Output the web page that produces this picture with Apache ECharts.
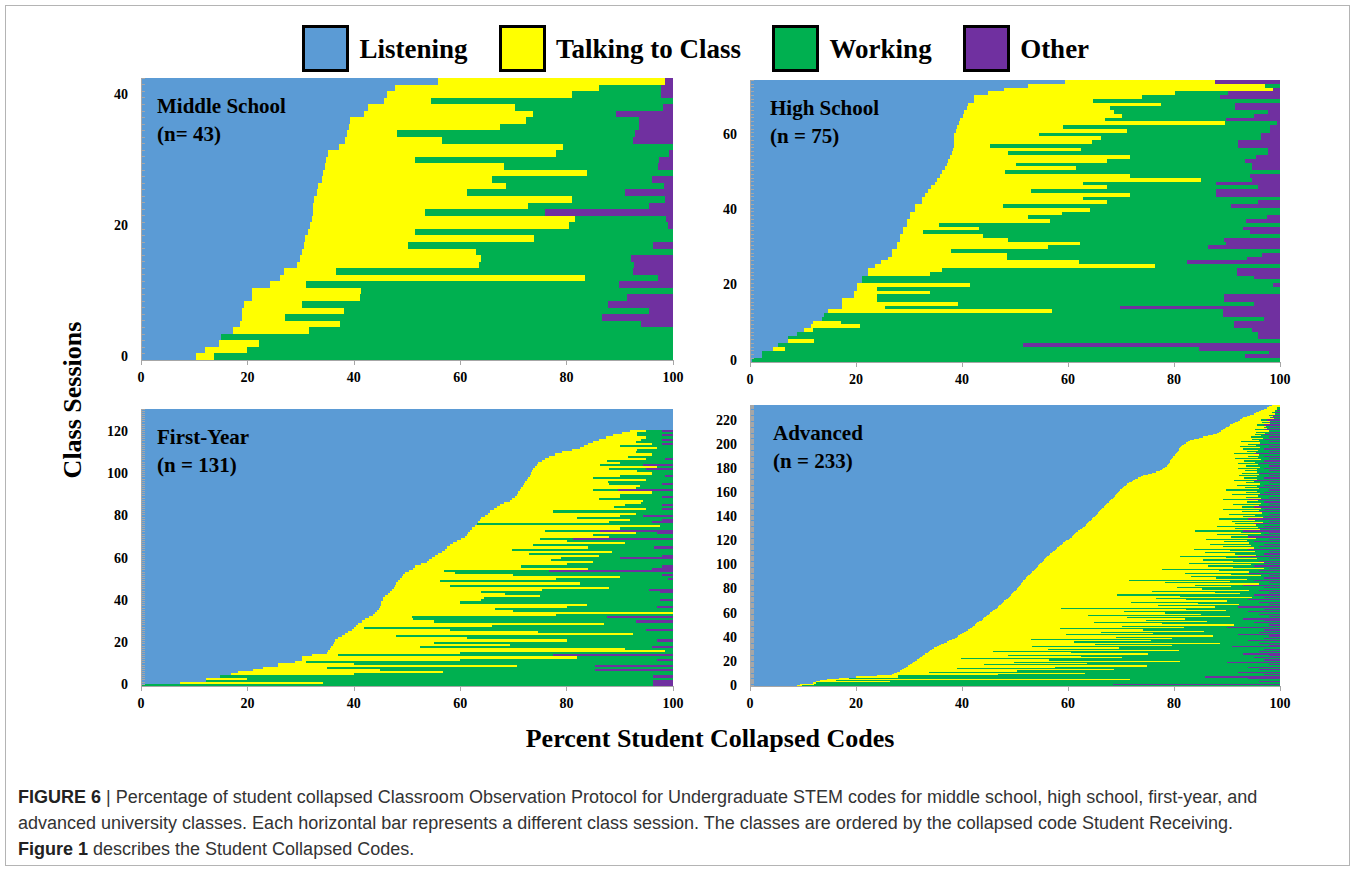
<!DOCTYPE html>
<html>
<head>
<meta charset="utf-8">
<title>Percent Student Collapsed Codes</title>
<script src="https://cdn.jsdelivr.net/npm/echarts@6/dist/echarts.min.js"></script>
<style>
html,body{margin:0;padding:0;background:#fff;}
/* sessions sit edge to edge: keep bar edges crisp so no pale seams show */
#main svg path{shape-rendering:crispEdges;}
</style>
</head>
<body>
<div id="main" style="width:1355px;height:870px;"></div>
<script type="text/javascript">
var codeNames = ['Listening', 'Talking to Class', 'Working', 'Other'];
var codeColors = ['#5b9bd5', '#ffff00', '#00b050', '#7030a0'];
var xTicks = [0, 20, 40, 60, 80, 100];

// Middle School (n = 43), one value per class session, bottom to top
var msListening = [10.3,12.1,14.7,15.0,17.2,18.7,19.0,19.0,19.3,20.8,
  20.8,24.2,26.1,26.9,29.3,29.9,30.2,30.6,30.9,31.4,
  31.8,32.1,32.3,32.3,32.6,33.1,33.2,34.0,34.3,34.6,
  34.7,35.1,37.3,38.4,38.7,39.1,39.3,42.0,42.6,45.6,
  46.2,47.7,55.9];
var msTalking = [3.5,7.8,7.5,0,14.3,18.8,8.1,19.2,10.9,20.4,
  20.6,6.9,57.4,9.7,34.2,34.1,32.7,19.5,43.0,20.1,
  48.7,49.4,21.0,40.4,48.5,28.1,35.5,31.9,49.5,33.7,
  16.8,42.9,42.0,18.1,9.5,28.4,33.0,31.6,27.7,8.9,
  34.8,38.3,42.6];
var msWorking = [86.2,80.1,77.8,85.0,68.5,56.4,59.5,57.2,57.6,50.2,
  58.6,58.8,13.6,55.9,29.2,28.1,37.1,46.2,26.1,48.5,
  18.5,17.1,22.6,22.7,17.4,29.8,29.6,30.2,16.2,28.8,
  45.9,21.3,20.7,36.0,44.7,26.2,21.4,15.7,27.8,45.5,
  16.7,11.7,0];
var msOther = [0,0,0,0,0,6.1,13.4,4.6,12.2,8.6,
  0,10.1,2.9,7.5,7.3,7.9,0,3.7,0,0,
  1.0,1.4,24.1,4.6,1.5,9.0,1.7,3.9,0,2.9,
  2.6,0.7,0,7.5,7.1,6.3,6.3,10.7,1.9,0,
  2.3,2.3,1.5];

// High School (n = 75)
var hsListening = [0.3,2.2,2.2,4.4,5.2,7.2,7.2,8.8,10.1,11.6,
  11.9,13.5,14.0,14.7,17.3,17.3,17.3,19.6,19.6,20.1,
  20.1,21.1,21.1,22.3,22.3,23.5,24.8,26.0,26.7,26.7,
  27.7,27.7,28.3,28.3,28.9,28.9,29.6,29.6,30.2,30.2,
  31.1,31.1,32.4,32.4,33.0,33.6,34.2,34.9,35.3,35.8,
  36.3,36.8,37.1,37.4,37.8,38.1,38.3,38.4,38.4,38.4,
  38.4,38.8,39.1,39.4,39.7,40.1,40.3,40.9,41.2,42.3,
  42.3,44.9,47.9,52.5,59.4];
var hsTalking = [0,0,0,2.2,0,4.9,0,0,1.7,9.2,
  5.3,0,0,42.2,8.2,22.0,6.6,4.3,14.4,3.8,
  21.5,0,0,11.7,13.9,52.9,37.3,22.4,21.7,11.3,
  28.5,34.6,20.4,15.7,3.7,14.3,6.1,27.0,22.3,28.7,
  33.1,16.7,35.0,30.4,38.7,19.4,33.2,27.9,49.7,35.9,
  11.8,24.7,13.1,30.0,33.9,10.6,24.1,6.9,26.1,27.9,
  16.1,32.3,20.0,50.2,27.3,30.0,28.4,27.0,36.3,22.4,
  31.6,35.3,50.8,44.7,28.3];
var hsWorking = [99.7,91.2,95.8,78.2,46.4,87.9,88.7,87.1,82.9,70.5,
  74.1,83.4,75.3,32.4,44.3,55.7,65.6,65.6,66.0,76.1,
  57.0,78.9,73.9,57.8,55.6,23.6,20.3,45.3,48.2,62.0,
  30.3,27.6,40.8,56.0,61.7,49.8,64.3,36.9,45.0,41.1,
  35.8,43.0,28.5,37.2,16.2,34.9,28.5,25.1,9.7,22.6,
  51.9,33.2,44.5,26.0,23.8,49.0,35.3,46.8,27.6,30.1,
  41.9,27.0,39.0,9.8,22.9,24.9,29.0,23.6,14.0,35.3,
  14.8,10.0,0,2.8,0];
var hsOther = [0,6.6,2.0,15.2,48.4,0,4.1,4.1,5.3,8.7,
  8.7,3.1,10.7,10.7,30.2,5.0,10.5,10.5,0,0,
  1.4,0,5.0,8.2,8.2,0,17.6,6.3,3.4,0,
  13.5,10.1,10.5,0,5.7,7.0,0,6.5,2.5,0,
  0,9.2,4.1,0,12.1,12.1,4.1,12.1,5.3,5.7,
  0,5.3,5.3,6.6,4.5,2.3,2.3,7.9,7.9,3.6,
  3.6,1.9,1.9,0.6,10.1,5.0,2.3,8.5,8.5,0,
  11.3,9.8,1.3,0,12.3];

// First-Year (n = 131)
var fyListening = [0,7.3,12.3,12.3,14.8,17.0,18.3,21.1,23.0,25.8,
  25.8,28.9,30.2,30.2,32.1,34.9,35.1,35.5,35.8,36.0,
  36.3,36.5,37.1,37.7,38.3,39.0,39.6,40.0,40.4,40.8,
  41.5,42.1,42.9,43.7,44.0,44.4,44.7,44.9,45.1,45.2,
  45.4,45.5,45.9,46.4,46.8,47.2,47.5,47.7,48.0,48.4,
  48.7,49.0,49.3,49.6,50.4,51.1,51.5,52.6,53.7,54.2,
  54.7,55.3,55.9,56.5,57.1,57.6,58.1,58.7,59.4,60.1,
  60.9,61.2,61.5,61.8,62.2,62.7,63.1,63.4,63.7,64.0,
  64.6,65.2,65.6,66.3,66.9,67.5,68.3,69.4,69.8,70.3,
  70.6,70.9,71.2,71.5,71.8,72.0,72.2,72.5,72.8,73.1,
  73.3,73.5,73.7,74.0,74.4,74.7,75.3,76.0,76.6,77.8,
  79.1,81.0,82.5,83.3,84.1,85.0,86.0,87.4,88.8,90.4,
  91.9,100,100,100,100,100,100,100,100,100,
  100];
var fyTalking = [0,27.0,0,7.7,0,23.0,38.5,23.8,12.0,44.8,
  14.2,2.1,29.8,51.8,4.9,25.1,63.4,55.5,16.6,33.4,
  18.7,43.5,24.1,10.3,54.2,35.7,18.4,2.0,25.6,46.2,
  13.5,9.1,8.0,34.3,56.0,25.6,21.8,35.1,38.7,14.8,
  18.6,19.0,29.1,22.0,17.2,28.1,40.5,10.3,34.5,7.8,
  29.3,41.0,20.7,9.4,6.6,32.9,20.0,27.4,31.3,22.8,
  24.3,30.7,17.1,32.0,12.6,26.4,15.6,32.3,20.6,14.9,
  27.1,23.8,31.5,14.1,27.8,34.9,0,24.6,28.3,17.9,
  25.4,27.8,11.9,28.7,22.1,23.5,25.7,25.0,16.2,19.7,
  19.4,25.1,13.8,21.5,22.0,16.0,15.6,22.5,12.2,16.9,
  22.7,19.7,14.3,23.0,11.9,15.3,12.2,19.0,15.0,18.2,
  13.9,12.2,14.5,6.7,11.9,8.0,8.0,7.6,4.4,2.8,
  3.1,0,0,0,0,0,0,0,0,0,
  0];
var fyWorking = [96.3,62.0,84.0,80.0,81.5,60.0,43.2,40.4,65.0,14.7,
  60.0,69.0,37.0,18.0,40.5,40.0,1.5,9.0,43.6,30.6,
  45.0,17.0,38.8,52.0,7.5,25.3,37.0,58.0,34.0,13.0,
  38.0,48.8,36.7,22.0,0,30.0,33.5,17.0,16.2,40.0,
  33.5,35.5,25.0,31.6,33.6,20.2,12.0,42.0,17.5,43.8,
  21.0,10.0,28.0,41.0,19.6,12.0,26.4,20.0,15.0,23.0,
  11.0,12.0,27.0,11.5,30.3,12.5,26.3,9.0,20.0,6.2,
  12.0,15.0,4.0,10.4,10.0,2.4,36.9,8.0,5.9,18.1,
  4.3,7.0,22.5,3.0,11.0,6.9,6.0,5.6,14.0,8.0,
  10.0,4.0,4.7,7.0,6.2,10.0,12.2,5.0,15.0,8.5,
  4.0,6.8,7.0,3.0,8.0,10.0,12.5,3.5,8.4,4.0,
  7.0,6.8,3.0,10.0,1.9,7.0,3.9,5.0,4.7,6.8,
  3.0,0,0,0,0,0,0,0,0,0,
  0];
var fyOther = [3.7,3.7,3.7,0,3.7,0,0,14.7,0,14.7,
  0,0,3.0,0,22.5,0,0,0,4.0,0,
  0,3.0,0,0,0,0,5.0,0,0,0,
  7.0,0,12.4,0,0,0,0,3.0,0,0,
  2.5,0,0,0,2.4,4.5,0,0,0,0,
  1.0,0,2.0,0,23.4,4.0,2.1,0,0,0,
  10.0,2.0,0,0,0,3.5,0,0,0,18.8,
  0,0,3.0,13.7,0,0,0,4.0,2.1,0,
  5.7,0,0,2.0,0,2.1,0,0,0,2.0,
  0,0,10.3,0,0,2.0,0,0,0,1.5,
  0,0,5.0,0,5.7,0,0,1.5,0,0,
  0,0,0,0,2.1,0,2.1,0,2.1,0,
  2.0,0,0,0,0,0,0,0,0,0,
  0];

// Advanced (n = 233)
var adListening = [8.8,9.5,11.9,12.5,13.2,14.5,16.7,20.0,23.9,26.7,
  27.2,27.8,28.3,28.7,29.1,29.5,29.9,30.2,30.5,30.8,
  31.1,31.5,31.8,32.1,32.4,32.7,33.1,33.5,33.8,34.0,
  34.3,34.7,35.2,35.6,36.1,36.6,37.1,37.6,38.1,38.6,
  39.0,39.3,39.6,40.0,40.3,40.7,41.1,41.5,41.8,42.1,
  42.4,42.7,42.9,43.3,43.7,44.0,44.2,44.5,44.8,45.0,
  45.3,45.6,45.9,46.2,46.6,46.8,47.0,47.3,47.6,47.8,
  48.0,48.3,48.6,48.8,49.1,49.3,49.5,49.7,49.9,50.1,
  50.3,50.5,50.7,50.9,51.1,51.3,51.5,51.6,51.8,52.0,
  52.2,52.4,52.8,53.0,53.2,53.5,53.7,53.9,54.2,54.4,
  54.6,54.8,55.0,55.2,55.5,55.7,55.9,56.1,56.4,56.6,
  56.9,57.2,57.5,57.8,58.0,58.3,58.5,58.8,59.1,59.4,
  59.7,60.1,60.4,60.7,60.9,61.1,61.4,61.6,61.9,62.2,
  62.6,62.9,63.2,63.4,63.6,63.8,64.0,64.3,64.5,64.7,
  65.0,65.2,65.4,65.6,65.8,66.0,66.3,66.5,66.8,67.0,
  67.2,67.4,67.7,67.9,68.2,68.4,68.6,68.8,69.0,69.3,
  69.5,69.7,69.9,70.1,70.4,70.6,70.9,71.2,71.6,72.0,
  72.3,72.7,73.2,73.7,74.2,75.0,75.8,76.6,77.4,77.7,
  78.0,78.3,78.6,78.8,79.0,79.2,79.3,79.5,79.6,79.8,
  79.9,80.1,80.3,80.5,80.7,80.9,81.0,81.2,81.4,81.5,
  81.9,82.3,82.7,83.0,83.8,84.7,85.5,86.4,87.3,88.1,
  88.5,88.9,89.3,89.6,89.9,90.3,90.6,91.1,91.6,92.1,
  92.4,92.8,93.1,93.7,94.4,95.0,95.5,96.0,96.5,97.0,
  97.5,98.0,98.5];
var adTalking = [1.0,2.5,0.5,14.0,3.0,57.2,2.0,8.0,4.0,20.0,
  36.0,6.0,22.0,40.0,10.0,28.0,45.0,14.0,33.0,19.0,
  50.0,25.0,8.0,38.0,30.0,16.0,42.0,27.0,12.0,47.0,
  22.0,35.0,18.0,44.0,29.0,52.0,24.0,38.0,15.0,41.0,
  30.0,48.0,20.0,36.0,26.0,45.0,33.0,17.0,40.0,28.0,
  49.0,35.0,22.0,43.0,31.0,38.0,27.0,46.0,19.0,40.0,
  33.0,25.0,44.0,36.0,12.0,41.0,30.0,45.0,37.0,24.0,
  42.0,34.0,28.0,46.0,32.0,20.0,43.0,38.0,26.0,44.0,
  35.0,30.0,40.0,33.0,45.0,27.0,39.0,20.0,42.0,36.0,
  31.0,44.0,38.0,29.0,41.0,35.0,24.0,43.0,37.0,32.0,
  40.0,28.0,42.0,36.0,30.0,40.0,34.0,25.0,39.0,35.0,
  29.0,38.0,33.0,26.0,37.0,31.0,36.0,28.0,35.0,30.0,
  34.0,26.0,35.0,30.0,33.0,27.0,35.0,31.0,22.0,34.0,
  29.0,33.0,25.0,32.0,28.0,33.0,27.0,31.0,24.0,32.0,
  28.0,30.0,25.0,31.0,27.0,30.0,23.0,30.0,26.0,29.0,
  24.0,29.0,26.0,28.0,21.0,28.0,25.0,27.0,22.0,27.0,
  24.0,26.0,20.0,26.0,23.0,25.0,21.0,25.0,22.0,23.0,
  19.0,23.0,20.0,22.0,18.0,21.0,17.0,19.0,16.0,18.0,
  14.0,18.0,15.0,17.0,13.0,16.0,14.0,17.0,12.0,16.0,
  14.0,16.0,11.0,15.0,13.0,15.0,12.0,15.0,11.0,14.0,
  12.0,14.0,10.0,13.0,11.0,12.0,9.0,10.0,8.0,9.0,
  7.0,9.0,6.0,8.0,7.0,7.0,5.0,7.0,5.0,6.0,
  4.0,6.0,5.0,5.0,3.5,4.0,3.0,3.0,2.5,2.5,
  2.0,2.0,1.5];
var adWorking = [90.2,56.5,87.6,69.5,83.8,28.3,75.3,57.8,72.1,50.3,
  36.8,58.2,49.7,27.3,60.9,36.5,25.1,53.8,36.5,40.2,
  18.9,40.5,60.2,24.9,37.6,49.3,17.9,39.5,50.2,19.0,
  40.7,30.3,37.8,18.4,34.9,7.4,38.9,18.4,46.9,17.4,
  31.0,10.7,32.4,24.0,29.7,14.3,22.9,41.5,8.2,29.9,
  6.6,22.3,30.1,13.7,22.3,11.0,28.8,7.5,36.2,11.0,
  21.7,23.4,10.1,14.8,41.4,4.2,23.0,5.7,15.4,24.2,
  10.0,11.7,23.4,2.2,18.9,25.7,7.5,10.3,24.1,1.9,
  14.7,16.5,9.3,9.1,3.9,19.7,9.5,23.4,6.2,9.0,
  16.8,1.6,9.2,12.0,5.8,7.5,22.3,1.1,8.8,8.6,
  5.4,14.2,3.0,4.8,14.5,2.3,10.1,10.9,4.6,5.4,
  14.1,2.8,9.5,10.2,5.0,6.7,5.5,10.2,5.9,5.6,
  6.3,11.9,4.6,3.3,6.1,8.9,3.6,5.4,9.1,3.8,
  4.4,4.1,8.8,4.6,3.4,3.2,7.0,4.7,5.5,3.3,
  4.0,4.8,7.6,3.4,3.2,4.0,7.7,3.5,2.2,4.0,
  6.8,3.6,3.3,4.1,4.8,3.6,4.4,4.2,5.0,3.7,
  3.5,4.3,8.1,3.9,2.6,4.4,5.1,3.8,4.4,5.0,
  3.7,4.3,3.8,4.3,5.8,4.0,3.2,4.4,4.6,4.3,
  5.0,3.7,4.4,4.2,4.0,4.8,3.7,3.5,6.4,4.2,
  3.1,3.9,3.7,4.5,4.3,4.1,4.0,3.8,5.6,4.5,
  2.1,3.7,5.3,4.0,2.2,3.3,3.5,3.6,1.7,2.9,
  2.5,2.1,1.7,2.4,1.1,2.7,1.4,1.9,1.4,1.9,
  1.1,1.2,0.4,1.3,0.6,1.0,0.5,1.0,0.5,0.5,
  0.5,0,0];
var adOther = [0,31.5,0,4.0,0,0,6.0,14.2,0,3.0,
  0,8.0,0,4.0,0,6.0,0,2.0,0,10.0,
  0,3.0,0,5.0,0,2.0,7.0,0,4.0,0,
  3.0,0,9.0,2.0,0,4.0,0,6.0,0,3.0,
  0,2.0,8.0,0,4.0,0,3.0,0,10.0,0,
  2.0,0,5.0,0,3.0,7.0,0,2.0,0,4.0,
  0,6.0,0,3.0,0,8.0,0,2.0,0,4.0,
  0,6.0,0,3.0,0,5.0,0,2.0,0,4.0,
  0,3.0,0,7.0,0,2.0,0,5.0,0,3.0,
  0,2.0,0,6.0,0,4.0,0,2.0,0,5.0,
  0,3.0,0,4.0,0,2.0,0,8.0,0,3.0,
  0,2.0,0,6.0,0,4.0,0,3.0,0,5.0,
  0,2.0,0,6.0,0,3.0,0,2.0,7.0,0,
  4.0,0,3.0,0,5.0,0,2.0,0,6.0,0,
  3.0,0,2.0,0,4.0,0,3.0,0,5.0,0,
  2.0,0,3.0,0,6.0,0,2.0,0,4.0,0,
  3.0,0,2.0,0,4.0,0,3.0,0,2.0,0,
  5.0,0,3.0,0,2.0,0,4.0,0,2.0,0,
  3.0,0,2.0,0,4.0,0,3.0,0,2.0,0,
  3.0,0,5.0,0,2.0,0,3.0,0,2.0,0,
  4.0,0,2.0,0,3.0,0,2.0,0,3.0,0,
  2.0,0,3.0,0,2.0,0,3.0,0,2.0,0,
  2.5,0,1.5,0,1.5,0,1.0,0,0.5,0,
  0,0,0];

var panelTitles = ['Middle School\n(n= 43)', 'High School\n(n = 75)', 'First-Year\n(n = 131)', 'Advanced\n(n = 233)'];
var panelData = [
  [msListening, msTalking, msWorking, msOther],
  [hsListening, hsTalking, hsWorking, hsOther],
  [fyListening, fyTalking, fyWorking, fyOther],
  [adListening, adTalking, adWorking, adOther]
];

var serif = "'Liberation Serif', 'Times New Roman', serif";
var sans = "'Liberation Sans', Arial, sans-serif";
var grids = [
  {left: 141, top: 78, width: 532, height: 282},
  {left: 750, top: 80, width: 530, height: 282},
  {left: 141, top: 409, width: 532, height: 277},
  {left: 750, top: 405, width: 530, height: 281}
];
var titlePos = [[157, 92], [770, 94], [157, 423], [773, 419]];

function sessionLabels(n) {
  var a = [];
  for (var i = 0; i < n; i++) a.push(String(i));
  return a;
}

var myChart = echarts.init(document.getElementById('main'), null, {renderer: 'svg'});

var xAxes = [], yAxes = [], series = [], titles = [];
for (var p = 0; p < 4; p++) {
  xAxes.push({
    type: 'value', gridIndex: p, min: xTicks[0], max: xTicks[xTicks.length - 1], interval: 20,
    axisLine: {show: true, lineStyle: {color: '#a6a6a6'}},
    axisTick: {show: true, length: 5, lineStyle: {color: '#a6a6a6'}},
    splitLine: {show: false},
    axisLabel: {color: '#000', fontFamily: serif, fontWeight: 'bold', fontSize: 14, margin: 10}
  });
  yAxes.push({
    type: 'category', gridIndex: p, z: 10,
    data: sessionLabels(panelData[p][0].length),
    splitLine: {show: false},
    axisLine: {show: true, lineStyle: {color: '#a6a6a6'}},
    axisTick: {show: true, interval: 0, inside: true, length: 4, lineStyle: {color: '#a6a6a6'}},
    axisLabel: {interval: 19, color: '#000', fontFamily: serif, fontWeight: 'bold', fontSize: 14, margin: 13}
  });
  for (var k = 0; k < 4; k++) {
    series.push({
      name: codeNames[k], type: 'bar', stack: 'panel' + p,
      xAxisIndex: p, yAxisIndex: p, barWidth: '100%',
      data: panelData[p][k].map(function (v) { return v > 0 ? v : '-'; }),
      silent: true,
      itemStyle: {color: codeColors[k]}
    });
  }
  titles.push({
    text: panelTitles[p], left: titlePos[p][0], top: titlePos[p][1], padding: 0,
    textStyle: {fontFamily: serif, fontWeight: 'bold', fontSize: 21, lineHeight: 28, color: '#000'}
  });
}

var option = {
  animation: false,
  title: titles,
  legend: {
    data: codeNames, top: 20, left: 297,
    icon: 'rect', itemWidth: 44, itemHeight: 44, itemGap: 31,
    selectedMode: false,
    itemStyle: {borderColor: '#000', borderWidth: 3},
    textStyle: {fontFamily: serif, fontWeight: 'bold', fontSize: 27, color: '#000', padding: [0, 0, 0, 7]}
  },
  grid: grids,
  xAxis: xAxes,
  yAxis: yAxes,
  series: series,
  graphic: [
    {type: 'rect', silent: true, shape: {x: 5.5, y: 5.5, width: 1344, height: 860},
      style: {fill: null, stroke: '#b4b4b4', lineWidth: 1}},
    {type: 'text', x: 72, y: 400, rotation: Math.PI / 2, silent: true,
      style: {text: 'Class Sessions', font: 'bold 26px ' + serif, fill: '#000', textAlign: 'center', textVerticalAlign: 'middle'}},
    {type: 'text', x: 710, y: 738, silent: true,
      style: {text: 'Percent Student Collapsed Codes', font: 'bold 26px ' + serif, fill: '#000', textAlign: 'center', textVerticalAlign: 'middle'}},
    {type: 'text', x: 18, y: 784, silent: true,
      style: {
        text: '{b|FIGURE 6} | Percentage of student collapsed Classroom Observation Protocol for Undergraduate STEM codes for middle school, high school, first-year, and\n' +
              'advanced university classes. Each horizontal bar represents a different class session. The classes are ordered by the collapsed code Student Receiving.\n' +
              '{b|Figure 1} describes the Student Collapsed Codes.',
        fontFamily: sans, fontSize: 18, lineHeight: 26, fill: '#333',
        rich: {b: {fontFamily: sans, fontSize: 18, fontWeight: 'bold', fill: '#222', lineHeight: 26}}
      }}
  ]
};
myChart.setOption(option);
</script>
</body>
</html>
